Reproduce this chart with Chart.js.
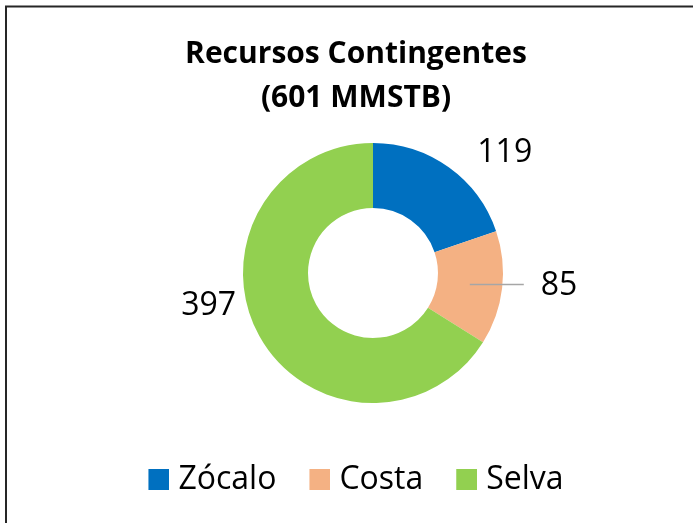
<!DOCTYPE html>
<html><head><meta charset="utf-8">
<script src="https://cdn.jsdelivr.net/npm/chart.js@4/dist/chart.umd.min.js"></script>
<style>html,body{margin:0;padding:0;background:#fff;}#wrap{width:693px;height:523px;}</style>
</head><body><div id="wrap"><canvas id="c" width="693" height="523"></canvas></div>
<script>
const titleLines = ['Recursos Contingentes', '(601 MMSTB)'];
const categories = ['Zócalo', 'Costa', 'Selva'];
const values = [119, 85, 397];
const colors = ['#0070C0', '#F4B183', '#92D050'];

function makeSwatch(color) {
  const cv = document.createElement('canvas');
  cv.width = 28; cv.height = 21;
  const g = cv.getContext('2d');
  g.fillStyle = color;
  g.fillRect(7, 0, 21, 21);
  return cv;
}
const swatches = colors.map(makeSwatch);

const leftSpacer = {
  id: 'leftSpacer',
  beforeInit(chart) {
    Chart.layouts.addBox(chart, {
      position: 'left', weight: 0, fullSize: false, options: {},
      isHorizontal() { return false; },
      update(maxW, maxH) { this.width = 34; this.height = maxH; },
      draw() {}
    });
  }
};

const frame = {
  id: 'frame',
  afterDraw(chart) {
    const ctx = chart.ctx;
    ctx.save();
    ctx.strokeStyle = '#262626';
    ctx.lineWidth = 2;
    ctx.beginPath();
    ctx.moveTo(6, 523); ctx.lineTo(6, 6.5); ctx.lineTo(693, 6.5);
    ctx.stroke();
    ctx.restore();
  }
};

const valueLabels = {
  id: 'valueLabels',
  afterDatasetsDraw(chart, args, opts) {
    const ctx = chart.ctx;
    const meta = chart.getDatasetMeta(0);
    ctx.save();
    ctx.font = '32px "Open Sans"';
    ctx.fillStyle = '#000';
    ctx.textAlign = 'center';
    ctx.textBaseline = 'middle';
    meta.data.forEach((arc, i) => {
      const p = arc.getProps(['x', 'y', 'startAngle', 'endAngle', 'innerRadius', 'outerRadius'], true);
      const place = opts.place[i];
      if (place.leader) {
        const mid = (p.startAngle + p.endAngle) / 2;
        const r = (p.innerRadius + p.outerRadius) / 2;
        const sx = p.x + Math.cos(mid) * r, sy = p.y + Math.sin(mid) * r;
        ctx.strokeStyle = '#A6A6A6';
        ctx.lineWidth = 1.5;
        ctx.beginPath();
        ctx.moveTo(sx, sy);
        ctx.lineTo(p.x + place.leader * p.outerRadius, sy);
        ctx.stroke();
      }
      const a = place.angle * Math.PI / 180;
      const d = place.dist * p.outerRadius;
      ctx.fillText(String(values[i]), p.x + Math.cos(a) * d, p.y + Math.sin(a) * d);
    });
    ctx.restore();
  }
};

new Chart(document.getElementById('c'), {
  type: 'doughnut',
  data: {
    labels: categories,
    datasets: [{
      data: values,
      backgroundColor: colors,
      borderWidth: 0,
      radius: 130,
      cutout: '50%'
    }]
  },
  options: {
    responsive: false,
    animation: false,
    layout: { padding: { left: 19, right: 0, top: 0, bottom: 17.5 } },
    plugins: {
      title: {
        display: true,
        text: titleLines,
        color: '#000',
        font: { family: '"Open Sans"', size: 30, weight: 'bold', lineHeight: 44 / 30 },
        padding: { top: 32, bottom: -4.5 }
      },
      legend: {
        position: 'bottom',
        labels: {
          color: '#000',
          font: { family: '"Open Sans"', size: 32 },
          padding: 33,
          usePointStyle: true,
          pointStyleWidth: 14,
          generateLabels(chart) {
            const items = Chart.overrides.doughnut.plugins.legend.labels.generateLabels(chart);
            items.forEach((it, i) => { it.pointStyle = swatches[i]; });
            return items;
          }
        }
      },
      tooltip: { enabled: false },
      valueLabels: {
        place: [
          { angle: -42.3, dist: 1.37 },
          { angle: 4, dist: 1.435, leader: 1.16 },
          { angle: 168.6, dist: 1.29 }
        ]
      }
    }
  },
  plugins: [leftSpacer, valueLabels, frame]
});
</script>
</body></html>
